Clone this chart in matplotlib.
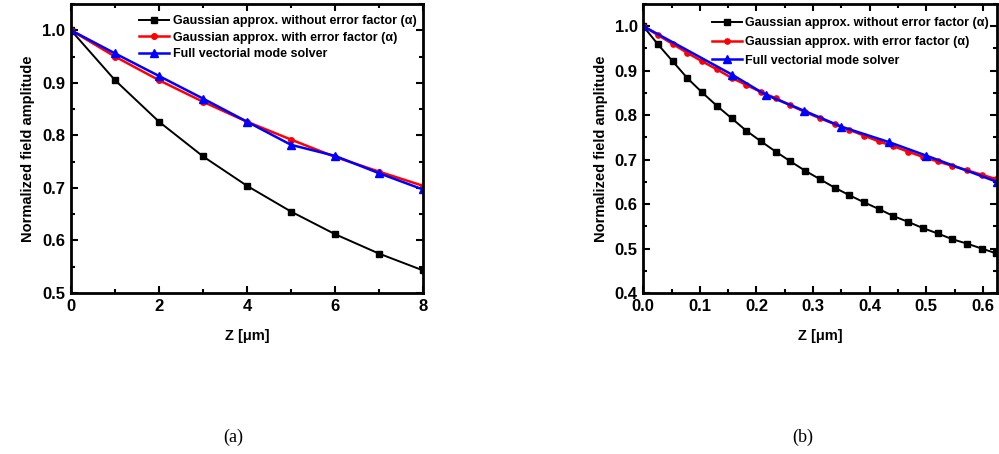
import matplotlib
matplotlib.use("Agg")
import matplotlib.pyplot as plt
from matplotlib.ticker import MultipleLocator, FormatStrFormatter

# ---- data: panel (a) ----
z_a = [0, 1, 2, 3, 4, 5, 6, 7, 8]
black_a = [1.0, 0.905, 0.826, 0.760, 0.704, 0.655, 0.612, 0.575, 0.543]
red_a = [1.0, 0.950, 0.905, 0.864, 0.826, 0.792, 0.759, 0.731, 0.704]
blue_a = [1.0, 0.956, 0.913, 0.870, 0.826, 0.782, 0.761, 0.728, 0.697]

# ---- data: panel (b) ----
z_b = [0.0, 0.026, 0.052, 0.078, 0.104, 0.130, 0.156, 0.182, 0.208, 0.234,
       0.260, 0.286, 0.312, 0.338, 0.364, 0.390, 0.416, 0.442, 0.468, 0.494,
       0.520, 0.546, 0.572, 0.598, 0.624]
black_b = [1.0, 0.959, 0.921, 0.883, 0.851, 0.821, 0.793, 0.765, 0.741, 0.718,
           0.696, 0.675, 0.656, 0.637, 0.620, 0.604, 0.589, 0.573, 0.560, 0.546,
           0.534, 0.521, 0.511, 0.500, 0.489]
red_b = [1.0, 0.980, 0.960, 0.940, 0.921, 0.903, 0.884, 0.868, 0.852, 0.838,
         0.822, 0.807, 0.793, 0.780, 0.767, 0.754, 0.741, 0.730, 0.718, 0.706,
         0.696, 0.686, 0.676, 0.666, 0.656]
z_blue_b = [0.0, 0.157, 0.216, 0.284, 0.350, 0.435, 0.500, 0.625]
blue_b = [1.0, 0.891, 0.846, 0.810, 0.774, 0.739, 0.709, 0.650]

labels = ["Gaussian approx. without error factor (α)",
          "Gaussian approx. with error factor (α)",
          "Full vectorial mode solver"]
y_label = "Normalized field amplitude"
x_label = "Z [μm]"
captions = ["(a)", "(b)"]

plt.rcParams['font.family'] = ['Liberation Sans', 'DejaVu Sans']
plt.rcParams['font.weight'] = 'bold'

fig = plt.figure(figsize=(9.99, 4.54), dpi=100)
W, H = 999, 454

def px_axes(x0, x1, y0, y1):
    return fig.add_axes([x0 / W, 1 - y1 / H, (x1 - x0) / W, (y1 - y0) / H])

ax1 = px_axes(71, 423, 4, 293)
ax2 = px_axes(643.3, 997, 4, 293)

def style(ax, xlim, ylim, xmaj, xmin, ymaj, ymin, xfmt):
    ax.set_xlim(*xlim)
    ax.set_ylim(*ylim)
    ax.xaxis.set_major_locator(MultipleLocator(xmaj))
    ax.xaxis.set_minor_locator(MultipleLocator(xmin))
    ax.yaxis.set_major_locator(MultipleLocator(ymaj))
    ax.yaxis.set_minor_locator(MultipleLocator(ymin))
    ax.xaxis.set_major_formatter(FormatStrFormatter(xfmt))
    ax.yaxis.set_major_formatter(FormatStrFormatter('%.1f'))
    ax.tick_params(which='both', direction='in', top=True, right=True, width=1.5)
    ax.tick_params(which='major', length=5, labelsize=12, pad=4)
    ax.tick_params(which='minor', length=3)
    for s in ax.spines.values():
        s.set_linewidth(2)
    for lab in ax.get_xticklabels() + ax.get_yticklabels():
        lab.set_fontweight('bold')
    ax.set_ylabel(y_label, fontsize=10.5, fontweight='bold', labelpad=5)
    ax.set_xlabel(x_label, fontsize=10.5, fontweight='bold', labelpad=11)

def draw(ax, xa, ya, xr, yr, xb, yb, ms, fs, spacing, top):
    ax.plot(xa, ya, color='black', lw=1.4, marker='s', ms=ms, label=labels[0])
    ax.plot(xr, yr, color='red', lw=1.8, marker='o', ms=ms, label=labels[1])
    ax.plot(xb, yb, color='blue', lw=1.8, marker='^', ms=ms + 1.5, label=labels[2])
    ax.legend(loc='upper left', bbox_to_anchor=(0.193, top), frameon=False,
              prop={'size': fs, 'weight': 'bold'}, handlelength=2.4,
              handletextpad=0.3, labelspacing=spacing, borderpad=0, borderaxespad=0)

draw(ax1, z_a, black_a, z_a, red_a, z_a, blue_a, 4, 9, 0.38, 0.962)
style(ax1, (0, 8), (0.5, 1.05), 2, 1, 0.1, 0.05, '%d')

draw(ax2, z_b, black_b, z_b, red_b, z_blue_b, blue_b, 3.8, 9, 0.55, 0.955)
style(ax2, (0, 0.625), (0.4, 1.05), 0.1, 0.05, 0.1, 0.05, '%.1f')

fig.text(233 / W, 1 - 437 / H, captions[0], ha='center', va='center',
         fontsize=13, family='Liberation Serif', fontweight='normal')
fig.text(803 / W, 1 - 437 / H, captions[1], ha='center', va='center',
         fontsize=13, family='Liberation Serif', fontweight='normal')

fig.savefig('out.png', dpi=100)
